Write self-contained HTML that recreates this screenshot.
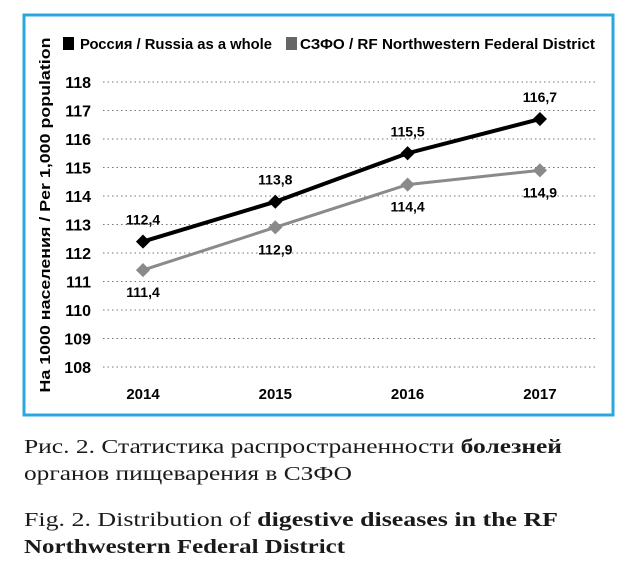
<!DOCTYPE html>
<html><head><meta charset="utf-8"><style>
body{margin:0;background:#fff;width:625px;height:582px;overflow:hidden;position:relative}
</style></head><body>
<svg width="625" height="430" style="position:absolute;left:0;top:0" font-family="Liberation Sans, sans-serif">
<rect x="24" y="15" width="589" height="400" fill="#fff" stroke="#29a8e0" stroke-width="3"/>
<g id="grid"></g><g id="plot"></g>
<rect x="63" y="37" width="11" height="13" fill="#000"/>
<text x="80" y="49" font-size="15" font-weight="bold" textLength="192" lengthAdjust="spacingAndGlyphs">Россия / Russia as a whole</text>
<rect x="286" y="37" width="11" height="13" fill="#666"/>
<text x="300" y="49" font-size="15" font-weight="bold" textLength="295" lengthAdjust="spacingAndGlyphs">СЗФО / RF Northwestern Federal District</text>
<text transform="translate(50,215) rotate(-90)" text-anchor="middle" font-size="15" font-weight="bold" textLength="355" lengthAdjust="spacingAndGlyphs">На 1000 населения / Per 1,000 population</text>
</svg>
<svg width="625" height="152" style="position:absolute;left:0;top:430px" font-family="Liberation Serif, serif" font-size="20" fill="#1a1a1a">
<text x="24" y="23" textLength="538" lengthAdjust="spacingAndGlyphs">Рис. 2. Статистика распространенности <tspan font-weight="bold">болезней</tspan></text>
<text x="24" y="50" textLength="328" lengthAdjust="spacingAndGlyphs">органов пищеварения в СЗФО</text>
<text x="24" y="96" textLength="534" lengthAdjust="spacingAndGlyphs">Fig. 2. Distribution of <tspan font-weight="bold">digestive diseases in the RF</tspan></text>
<text x="24" y="123" font-weight="bold" textLength="321" lengthAdjust="spacingAndGlyphs">Northwestern Federal District</text>
</svg>
<script>
const years=["2014","2015","2016","2017"];
const russia=[112.4,113.8,115.5,116.7];
const nw=[111.4,112.9,114.4,114.9];
const yTicks=[108,109,110,111,112,113,114,115,116,117,118];
const ns="http://www.w3.org/2000/svg";
const x=i=>143+i*132.3;
const y=v=>82+(118-v)*28.5;
function mk(tag,a,p){const e=document.createElementNS(ns,tag);for(const k in a)e.setAttribute(k,a[k]);p.appendChild(e);return e;}
const g=document.getElementById('grid'),p=document.getElementById('plot');
yTicks.forEach(t=>{
 const l=mk('line',{x1:103,x2:595,y1:y(t),y2:y(t),stroke:'#777','stroke-dasharray':'1.5 3','stroke-width':1},g);
 
 
 const tx=mk('text',{x:91,y:y(t)+6,'text-anchor':'end','font-size':16,'font-weight':'bold'},g);
 tx.textContent=t;
 
 
});
years.forEach((yr,i)=>{
 const tx=mk('text',{x:x(i),y:399,'text-anchor':'middle','font-size':15,'font-weight':'bold'},g);
 tx.textContent=yr;
 
 
});
function series(vals,color,w,name,labelAbove){
 const pl=mk('polyline',{points:vals.map((v,i)=>x(i)+','+y(v)).join(' '),fill:'none',stroke:color,'stroke-width':w},p);
 
 
 vals.forEach((v,i)=>{
  const c=mk('rect',{x:x(i)-5,y:y(v)-5,width:10,height:10,fill:color,transform:`rotate(45 ${x(i)} ${y(v)})`},p);
  
  
  const t=mk('text',{x:x(i),y:labelAbove?y(v)-17:y(v)+27,'text-anchor':'middle','font-size':14,'font-weight':'bold'},p);
  t.textContent=String(v).replace('.',',');
  
  
 });
}
series(nw,'#8a8a8a',3,'nw',false);
series(russia,'#000',4,'russia',true);
</script>
</body></html>
